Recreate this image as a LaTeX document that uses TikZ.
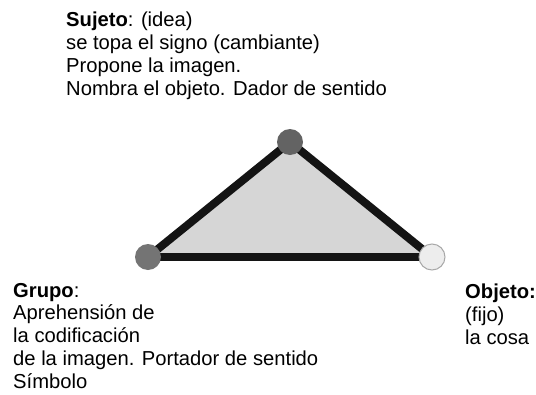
\documentclass[tikz,border=0pt]{standalone}
\usepackage{fontspec}
\setmainfont{Liberation Sans}
\usetikzlibrary{backgrounds}
\definecolor{trifill}{HTML}{D6D6D6}
\definecolor{nodeS}{HTML}{636363}
\definecolor{nodeG}{HTML}{747474}
\definecolor{nodeO}{HTML}{EDEDED}
\definecolor{nodeOline}{HTML}{A8A8A8}
\definecolor{edgecol}{HTML}{141414}
\begin{document}
\begin{tikzpicture}[x=1pt,y=-1pt,
  lbl/.style={anchor=base west, inner sep=0pt, align=left, font=\fontsize{20.2}{22.7}\selectfont},
  vert/.style={circle, minimum size=26pt, inner sep=0pt},
  edgeline/.style={line width=8pt, draw=edgecol}]
\useasboundingbox (0,0) rectangle (536,394);
\node[vert, fill=nodeS] (S) at (290,142) {};
\node[vert, fill=nodeG] (G) at (148,257) {};
\node[vert, fill=nodeO, draw=nodeOline, line width=1pt] (O) at (432,257) {};
\begin{pgfonlayer}{background}
\fill[trifill] (S.center) -- (G.center) -- (O.center) -- cycle;
\draw[edgeline] (S.center) -- (G.center);
\draw[edgeline] (G.center) -- (O.center);
\draw[edgeline] (O.center) -- (S.center);
\end{pgfonlayer}
% base anchor of a multi-line node is the baseline of its last line
\node[lbl] (ts) at (66,95) {\textbf{Sujeto}: (idea)\\se topa el signo (cambiante)\\Propone la imagen.\\Nombra el objeto. Dador de sentido};
\node[lbl] (tg) at (13,388) {\textbf{Grupo}:\\Aprehensión de\\la codificación\\de la imagen. Portador de sentido\\Símbolo};
\node[lbl] (to) at (465,344) {\textbf{Objeto:}\\(fijo)\\la cosa};
\end{tikzpicture}
\end{document}
